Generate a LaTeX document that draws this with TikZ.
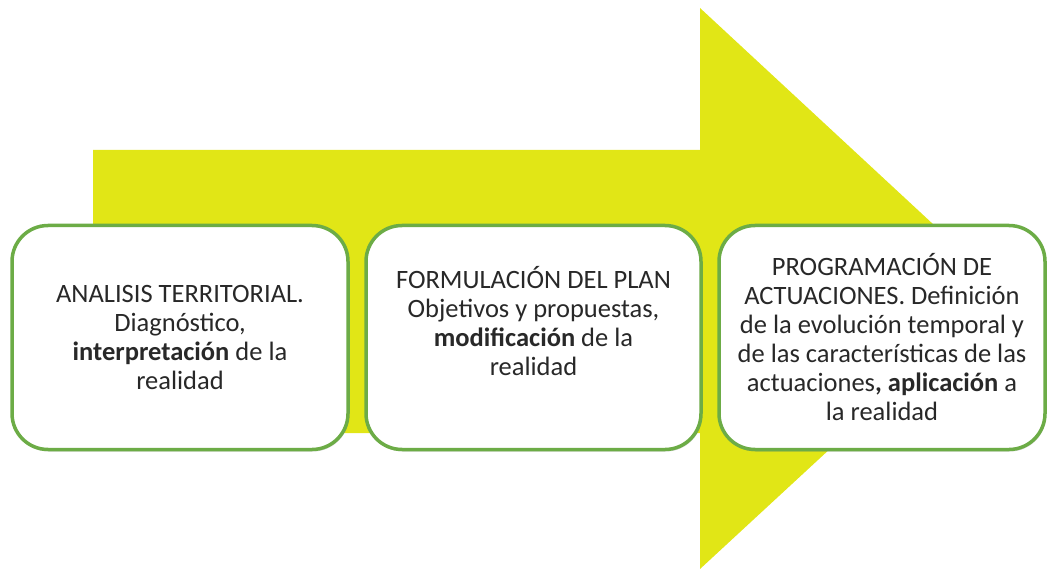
\documentclass[tikz,border=0pt]{standalone}
\usepackage{fontspec}
\setmainfont{Carlito}
\usetikzlibrary{shadows}
\definecolor{arrowyellow}{RGB}{225,230,22}
\definecolor{boxgreen}{RGB}{108,172,70}
\definecolor{textgray}{RGB}{40,40,40}
\tikzset{
    stagebox/.style={draw=boxgreen, line width=3.5pt, fill=white, rounded corners=36pt,
        minimum height=224pt, align=center, text=textgray, inner xsep=2pt,
        font=\fontsize{26.5}{29}\selectfont,
        drop shadow={shadow xshift=1pt, shadow yshift=-2pt, opacity=0.3}}
}
\begin{document}
\begin{tikzpicture}[x=1pt, y=-1pt]
    \useasboundingbox (0,0) rectangle (1049,569);

    % big arrow behind the boxes
    \fill[arrowyellow] (93,150) -- (700,150) -- (700,8) -- (1003,289)
        -- (700,569) -- (700,433) -- (93,433) -- cycle;

    \node[stagebox, minimum width=336pt] (analisis) at (180,337.5)
        {ANALISIS TERRITORIAL.\\ Diagnóstico,\\ \textbf{interpretación} de la\\ realidad};
    \node[stagebox, minimum width=335pt] (formulacion) at (533.5,337.5)
        {FORMULACIÓN DEL PLAN\\ Objetivos y propuestas,\\ \textbf{modificación} de la\\ realidad\rule[-33pt]{0pt}{33pt}};
    \node[stagebox, minimum width=326pt] (programacion) at (882,337.5)
        {PROGRAMACIÓN DE\\ ACTUACIONES. Definición\\ de la evolución temporal y\\ de las características de las\\ actuaciones\textbf{, aplicación} a\\ la realidad};
\end{tikzpicture}
\end{document}
